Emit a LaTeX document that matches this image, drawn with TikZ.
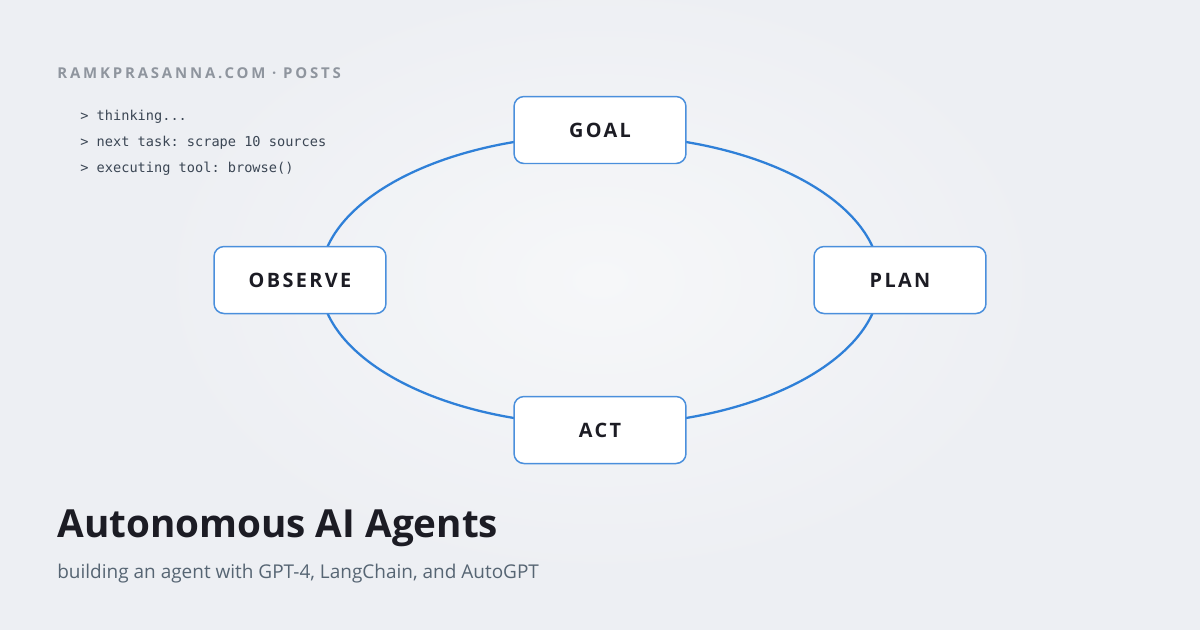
\documentclass[tikz,border=0pt]{standalone}
\usepackage{fontspec}
\setmainfont{Open Sans}
\setmonofont{DejaVu Sans Mono}
\newfontfamily\spacedfont[LetterSpace=12]{Open Sans}
\newfontfamily\headfont[LetterSpace=19]{Open Sans}
\definecolor{bgcol}{RGB}{237,239,243}
\definecolor{bgmid}{RGB}{246,247,249}
\definecolor{ringblue}{RGB}{47,128,216}
\definecolor{boxblue}{RGB}{74,143,220}
\definecolor{inkdark}{RGB}{28,28,36}
\definecolor{headgray}{RGB}{143,149,158}
\definecolor{monoslate}{RGB}{59,70,84}
\definecolor{subslate}{RGB}{86,101,115}
\begin{document}
\begin{tikzpicture}[x=0.02cm, y=-0.02cm,
    stepbox/.style={draw=boxblue, fill=white, line width=0.85pt, rounded corners=0.2cm,
        minimum width=3.44cm, minimum height=1.34cm, font=\spacedfont\bfseries\fontsize{11.3}{13}\selectfont, text=inkdark},
    termline/.style={anchor=base west, inner sep=0, font=\ttfamily\fontsize{7.75}{9}\selectfont, text=monoslate}]
    % background
    \useasboundingbox (0,0) rectangle (1200,630);
    \begin{scope}
        \clip (0,0) rectangle (1200,630);
        \fill[bgcol] (0,0) rectangle (1200,630);
        \shade[inner color=bgmid, outer color=bgcol] (600,280) ellipse [x radius=9cm, y radius=6cm];
    \end{scope}

    % loop
    \coordinate (C) at (600,280);
    \draw[ringblue, line width=1.3pt] (C) ellipse [x radius=5.6cm, y radius=2.9cm];

    \node[stepbox] at (600,130) (G) {GOAL};
    \node[stepbox] at (900,280) (P) {PLAN};
    \node[stepbox] at (600,430) (A) {ACT};
    \node[stepbox] at (300,280) (O) {OBSERVE};

    % header and terminal lines
    \node[anchor=base west, inner sep=0, text=headgray, font=\headfont\bfseries\fontsize{8.5}{10}\selectfont] at (57,78) (H) {RAMKPRASANNA.COM · POSTS};
    \node[termline] at (80,120) (T1) {> thinking...};
    \node[termline] at (80,146) (T2) {> next task: scrape 10 sources};
    \node[termline] at (80,172) (T3) {> executing tool: browse()};

    % title
    \node[anchor=base west, inner sep=0, text=inkdark, font=\bfseries\fontsize{22}{26}\selectfont] at (57,537) (title) {Autonomous AI Agents};
    \node[anchor=base west, inner sep=0, text=subslate, font=\fontsize{10.8}{13}\selectfont] at (57,578) (sub) {building an agent with GPT-4, LangChain, and AutoGPT};
\end{tikzpicture}
\end{document}
